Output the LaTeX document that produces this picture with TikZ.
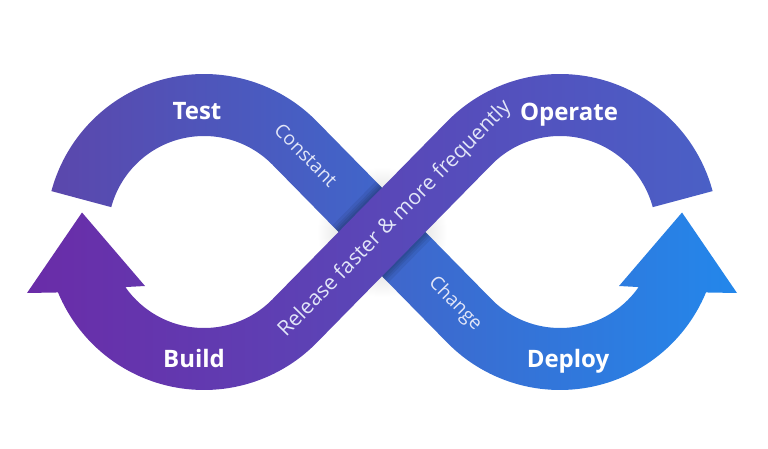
\documentclass[tikz,border=0pt]{standalone}
\usepackage{fontspec}
\setmainfont{Open Sans}
\definecolor{aL}{HTML}{5B47AC}
\definecolor{aR}{HTML}{2387EB}
\definecolor{bL}{HTML}{6A2CA8}
\definecolor{bR}{HTML}{4A60C6}
\definecolor{soft}{HTML}{E2E6F8}
\def\Ca{204}
\def\Cb{560}
\def\Cy{232}
\def\Ro{158}
\def\Ri{96}
\def\pathA{plot[domain=195:315.5, samples=80] ({\Ca+\Ro*cos(\x)},{\Cy+\Ro*sin(\x)})
 -- plot[domain=135.5:35, samples=60] ({\Cb+\Ri*cos(\x)},{\Cy+\Ri*sin(\x)})
 -- (619,286) -- (682,212.5) -- (737,293)
 -- plot[domain=22.5:135.5, samples=60] ({\Cb+\Ro*cos(\x)},{\Cy+\Ro*sin(\x)})
 -- plot[domain=315.5:195, samples=80] ({\Ca+\Ri*cos(\x)},{\Cy+\Ri*sin(\x)})
 -- cycle}
\def\pathB{plot[domain=-15:-135.5, samples=80] ({\Cb+\Ro*cos(\x)},{\Cy+\Ro*sin(\x)})
 -- plot[domain=44.5:145, samples=60] ({\Ca+\Ri*cos(\x)},{\Cy+\Ri*sin(\x)})
 -- (145,286) -- (82,212.5) -- (27,293)
 -- plot[domain=157.5:44.5, samples=60] ({\Ca+\Ro*cos(\x)},{\Cy+\Ro*sin(\x)})
 -- plot[domain=-135.5:-15, samples=80] ({\Cb+\Ri*cos(\x)},{\Cy+\Ri*sin(\x)})
 -- cycle}
\begin{document}
\begin{tikzpicture}[x=1pt,y=-1pt,
  biglabel/.style={font=\fontsize{24}{24}\selectfont\bfseries, text=white, anchor=base, inner sep=0pt},
  smalllabel/.style={font=\fontsize{19}{19}\selectfont, text=soft, inner sep=0pt},
  shadowline/.style={line width=#1, black, opacity=0.07}]
\useasboundingbox (0,0) rectangle (768,449);
% soft shadow around crossing
\shade[inner color=black!25, outer color=white] (382,232) circle (65pt);
% band A (under)
\shade[left color=aL, right color=aR] \pathA;
% shadow of band B on band A
\begin{scope}
  \clip \pathA;
  \foreach \w in {66,70,74,80} {
    \draw[shadowline=\w pt] (326,289) -- (438,175);
  }
\end{scope}
% band B (over)
\shade[left color=bL, right color=bR] \pathB;
% labels
\node[biglabel] (test) at (197,120) {Test};
\node[biglabel] (operate) at (569,121) {Operate};
\node[biglabel] (build) at (194,367) {Build};
\node[biglabel] (deploy) at (568,367) {Deploy};
\node[smalllabel, rotate=-45.5] (constant) at (306,155) {Constant};
\node[smalllabel, rotate=-45.5] (change) at (455,304) {Change};
\node[smalllabel, rotate=45.5, font=\fontsize{21}{21}\selectfont] (release) at (395,219) {Release faster \& more frequently};
\end{tikzpicture}
\end{document}
